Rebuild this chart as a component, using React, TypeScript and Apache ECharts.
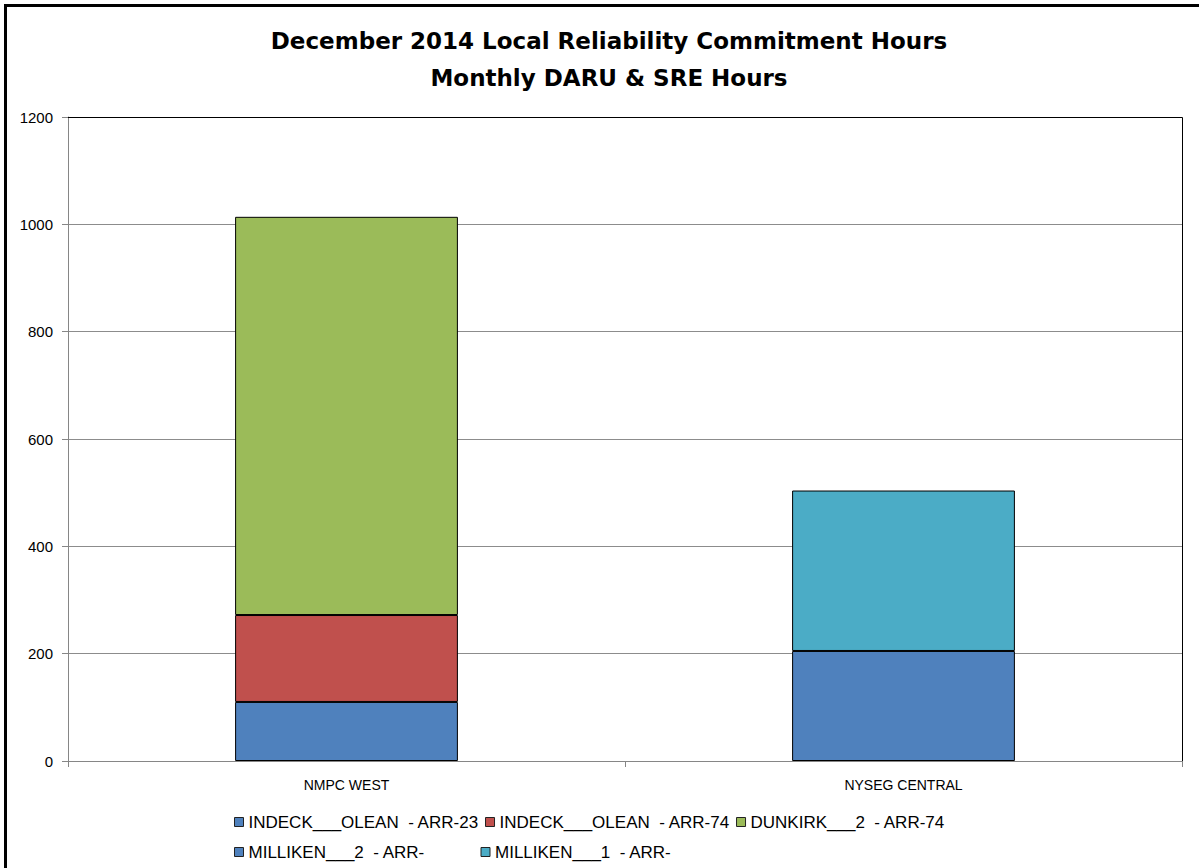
import React, { useEffect, useRef } from "react";
import * as echarts from "echarts";

const categories = ["NMPC WEST", "NYSEG CENTRAL"];
const seriesNames = [
  "INDECK___OLEAN  - ARR-23",
  "INDECK___OLEAN  - ARR-74",
  "DUNKIRK___2  - ARR-74",
  "MILLIKEN___2  - ARR-",
  "MILLIKEN___1  - ARR-",
];
const indeck23: (number | string)[] = [110, "-"];
const indeck74: (number | string)[] = [162, "-"];
const dunkirk2: (number | string)[] = [742, "-"];
const milliken2: (number | string)[] = ["-", 205];
const milliken1: (number | string)[] = ["-", 299];
const seriesColors = ["#4F81BD", "#C0504D", "#9BBB59", "#4F81BD", "#4BACC6"];
const yTicks = { min: 0, max: 1200, interval: 200 };

export default function App() {
  const ref = useRef<HTMLDivElement>(null);
  useEffect(() => {
    if (!ref.current) return;
    const chart = echarts.init(ref.current, null, { renderer: "svg" });
    const values = [indeck23, indeck74, dunkirk2, milliken2, milliken1];
    chart.setOption({
      animation: false,
      backgroundColor: "#fff",
      title: {
        text: "December 2014 Local Reliability Commitment Hours\nMonthly DARU & SRE Hours",
        left: 604,
        top: 17,
        textAlign: "center",
        textStyle: {
          fontFamily: "DejaVu Sans",
          fontWeight: "bold",
          fontSize: 23,
          lineHeight: 37,
          color: "#000",
        },
      },
      grid: { left: 68, top: 117, right: 17, bottom: 107, show: false },
      legend: {
        left: 229,
        top: 805,
        width: 770,
        itemWidth: 9,
        itemHeight: 9,
        itemGap: 6,
        icon: "rect",
        itemStyle: { borderColor: "#222", borderWidth: 1 },
        textStyle: {
          fontFamily: "Liberation Sans",
          fontSize: 17,
          color: "#000",
          width: 226,
          lineHeight: 24,
        },
        data: seriesNames,
      },
      xAxis: {
        type: "category",
        data: categories,
        axisLine: { lineStyle: { color: "#868686", width: 1 } },
        axisTick: { show: true, length: 6, lineStyle: { color: "#868686" } },
        axisLabel: {
          fontFamily: "Liberation Sans",
          fontSize: 14,
          color: "#000",
          margin: 17,
        },
      },
      yAxis: {
        type: "value",
        min: yTicks.min,
        max: yTicks.max,
        interval: yTicks.interval,
        axisLine: { show: true, lineStyle: { color: "#868686", width: 1 } },
        axisTick: { show: true, length: 6, lineStyle: { color: "#868686" } },
        splitLine: { lineStyle: { color: "#8c8c8c", width: 1 } },
        axisLabel: {
          fontFamily: "Liberation Sans",
          fontSize: 15,
          color: "#000",
          margin: 15,
          formatter: (v: number) => String(v),
        },
      },
      series: seriesNames.map((name, i) => ({
        name,
        type: "bar",
        stack: "total",
        barWidth: "40%",
        data: values[i],
        itemStyle: { color: seriesColors[i], borderColor: "#000", borderWidth: 1 },
      })),
      graphic: [
        {
          type: "polyline",
          z: 100,
          silent: true,
          shape: { points: [[68, 117.5], [1182.5, 117.5], [1182.5, 761]] },
          style: { stroke: "#000", lineWidth: 1, fill: "none" },
        },
        {
          type: "rect",
          z: 100,
          silent: true,
          shape: { x: 5.5, y: 5.5, width: 1300, height: 1000 },
          style: { stroke: "#000", lineWidth: 3, fill: "none" },
        },
      ],
    });
    return () => chart.dispose();
  }, []);
  return (
    <div
      ref={ref}
      style={{ position: "absolute", left: 0, top: 0, width: 1199, height: 868 }}
    />
  );
}
